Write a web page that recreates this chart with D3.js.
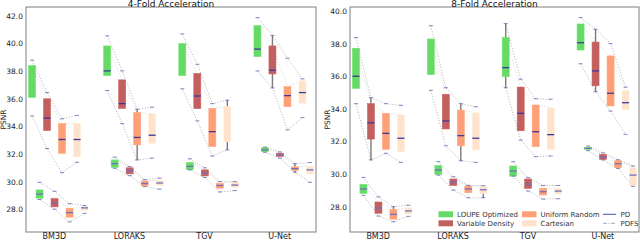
<!DOCTYPE html>
<html>
<head>
<meta charset="utf-8">
<script src="https://cdn.jsdelivr.net/npm/d3@7"></script>
<style>
  html, body { margin: 0; padding: 0; background: #fff; }
  svg { display: block; font-family: "DejaVu Sans", sans-serif; }
</style>
</head>
<body>
<svg id="chart" width="640" height="240"></svg>
<script>
// ---------- data ----------
const groups = ["BM3D", "LORAKS", "TGV", "U-Net"];
const masks = ["LOUPE Optimized", "Variable Density", "Uniform Random", "Cartesian"];
const metrics = ["PD", "PDFS"];
const titles = ["4-Fold Acceleration", "8-Fold Acceleration"];
const yTicks4 = [28, 30, 32, 34, 36, 38, 40, 42];
const yTicks8 = [28, 30, 32, 34, 36, 38, 40];

// each entry per group: [min, q1, median, q3, max]
const fold4_PD_LOUPE = [[34.75, 36.1, null, 38.4, 38.8], [36.6, 37.68, 38.02, 39.83, 40.56], [36.72, 37.68, null, 40.0, 40.7], [38.02, 39.06, 39.6, 41.3, 41.88]];
const fold4_PD_VD    = [[32.4, 33.7, 34.6, 36.0, 36.45], [34.2, 35.3, 35.65, 37.37, 38.02], [34.4, 35.29, 36.2, 37.83, 38.5], [36.79, 37.8, 38.07, 39.83, 40.6]];
const fold4_PD_UR    = [[30.65, 32.05, 33.05, 34.2, 34.55], [31.57, 32.66, 33.2, 35.0, 35.25], [31.86, 32.54, 33.62, 35.3, 35.65], [33.75, 35.43, 36.23, 36.88, 38.94]];
const fold4_PD_CA    = [[31.4, 31.8, 33.05, 34.2, 34.8], [31.7, 32.78, 33.36, 34.93, 35.39], [32.3, 32.9, null, 35.43, 35.9], [34.64, 35.68, 36.45, 37.3, 37.44]];
const fold4_PDFS_LOUPE = [[28.7, 28.8, 29.1, 29.4, 29.95], [30.97, 31.04, 31.3, 31.57, 31.77], [30.85, 30.87, 31.1, 31.38, 31.65], [32.13, 32.17, 32.3, 32.45, 32.5]];
const fold4_PDFS_VD    = [[28.0, 28.17, 28.45, 28.77, 29.3], [30.43, 30.56, 30.8, 31.0, 31.09], [30.3, 30.41, 30.63, 30.85, 31.0], [31.7, 31.82, 31.93, 32.06, 32.15]];
const fold4_PDFS_UR    = [[27.08, 27.42, 27.75, 28.07, 28.4], [29.64, 29.69, 29.86, 30.05, 30.14], [29.25, 29.52, 29.72, 29.88, 30.0], [30.68, 30.8, 30.94, 31.07, 31.3]];
const fold4_PDFS_CA    = [[27.7, 27.93, 28.1, 28.2, 28.27], [29.45, 29.74, 29.9, 30.1, 30.25], [29.35, 29.57, 29.75, 29.98, 30.0], [29.95, 30.56, 30.85, 31.1, 31.38]];

const fold8_PD_LOUPE = [[34.32, 35.26, 36.0, 37.72, 38.37], [35.14, 36.1, null, 38.29, 39.1], [35.3, 35.98, 36.53, 38.39, 39.23], [36.77, 37.61, 38.06, 39.21, 39.6]];
const fold8_PD_VD    = [[30.87, 32.15, 33.15, 34.32, 34.69], [31.74, 32.77, 33.26, 34.9, 35.3], [32.09, 32.66, 33.73, 35.34, 35.82], [35.05, 35.42, 36.33, 38.1, 38.88]];
const fold8_PD_UR    = [[31.28, 31.52, 32.5, 33.73, 34.32], [30.82, 31.74, 32.36, 33.93, 34.32], [31.07, 31.68, 32.6, 34.24, 34.62], [33.87, 34.18, 34.96, 37.25, 38.0]];
const fold8_PD_CA    = [[30.72, 31.37, 32.2, 33.63, 34.22], [30.72, 31.48, 32.2, 33.75, 34.13], [31.11, 31.52, 32.42, 34.07, 34.59], [32.44, 33.95, 34.38, 35.12, 35.33]];
const fold8_PDFS_LOUPE = [[28.7, 28.82, 29.09, 29.37, 29.8], [29.94, 29.99, 30.25, 30.52, 30.76], [29.88, 29.88, 30.19, 30.5, 30.76], [31.44, 31.52, 31.58, 31.64, 31.72]];
const fold8_PDFS_VD    = [[27.43, 27.6, 27.92, 28.29, 28.6], [29.02, 29.3, 29.5, 29.7, 29.84], [28.96, 29.13, 29.39, 29.7, 29.78], [30.87, 30.91, 31.05, 31.21, 31.3]];
const fold8_PDFS_UR    = [[27.08, 27.24, 27.53, 27.84, 28.0], [28.55, 28.86, 29.09, 29.27, 29.31], [28.47, 28.72, 28.92, 29.13, 29.3], [30.35, 30.39, 30.64, 30.82, 30.88]];
const fold8_PDFS_CA    = [[27.41, 27.55, 27.74, 27.92, 28.09], [28.55, 28.82, 29.04, 29.23, 29.29], [28.49, 28.78, 28.96, 29.13, 29.3], [29.25, 29.29, 29.94, 30.42, 30.5]];

// visible whiskers: [panel, metric, group, mask, side]
const whiskers = [
  [0, "PD", 1, 2, "low"], [0, "PD", 1, 2, "high"], [0, "PD", 2, 3, "low"], [0, "PD", 2, 3, "high"],
  [0, "PD", 3, 1, "low"], [0, "PD", 3, 1, "high"], [0, "PDFS", 3, 2, "low"], [0, "PDFS", 3, 2, "high"],
  [1, "PD", 0, 1, "low"], [1, "PD", 0, 1, "high"], [1, "PDFS", 0, 2, "high"], [1, "PD", 1, 2, "low"],
  [1, "PD", 1, 2, "high"], [1, "PDFS", 1, 3, "low"], [1, "PD", 2, 0, "low"], [1, "PD", 2, 0, "high"],
  [1, "PD", 3, 1, "low"], [1, "PD", 3, 1, "high"]
];

const panelData = [
  { PD: [fold4_PD_LOUPE, fold4_PD_VD, fold4_PD_UR, fold4_PD_CA],
    PDFS: [fold4_PDFS_LOUPE, fold4_PDFS_VD, fold4_PDFS_UR, fold4_PDFS_CA], ticks: yTicks4 },
  { PD: [fold8_PD_LOUPE, fold8_PD_VD, fold8_PD_UR, fold8_PD_CA],
    PDFS: [fold8_PDFS_LOUPE, fold8_PDFS_VD, fold8_PDFS_UR, fold8_PDFS_CA], ticks: yTicks8 }
];

// ---------- layout / style ----------
const maskColors = ["#66da66", "#c25f5f", "#fe9f78", "#fee2cb"];
const medianColor = { PD: "#3a3a9c", PDFS: "#7070bc" };
const capColor = "#5c5cb0";
const panels = [
  { left: 26, right: 316, top: 7, bottom: 232, yDomain: [26.35, 42.65] },
  { left: 350, right: 639, top: 7, bottom: 232, yDomain: [26.45, 40.25] }
];

const svg = d3.select("#chart");
const slotScale = d3.scaleBand()
  .domain(d3.range(8))
  .range([-30, 30]);
const boxW = 7;

panels.forEach((p, pi) => {
  const data = panelData[pi];
  const g = svg.append("g");
  const x = d3.scalePoint().domain(groups).range([p.left, p.right]).padding(0.43);
  const y = d3.scaleLinear().domain(p.yDomain).range([p.bottom, p.top]);
  const slotX = (gi, mi, metric) =>
    x(groups[gi]) + slotScale(mi * 2 + (metric === "PD" ? 0 : 1)) + slotScale.bandwidth() / 2;

  // dotted connecting lines between caps across masks
  const line = d3.line().x(d => d[0]).y(d => d[1]);
  metrics.forEach(metric => {
    groups.forEach((gn, gi) => {
      [0, 4].forEach(k => {
        const pts = masks.map((m, mi) => [slotX(gi, mi, metric), y(data[metric][mi][gi][k])]);
        g.append("path").attr("d", line(pts))
          .attr("fill", "none").attr("stroke", "#ababab")
          .attr("stroke-width", 0.8).attr("stroke-dasharray", "1.2,1.6");
      });
      const pts2 = masks.map((m, mi) => [slotX(gi, mi, metric), y(data[metric][mi][gi][3])]);
      g.append("path").attr("d", line(pts2))
        .attr("fill", "none").attr("stroke", "#c4c4c4")
        .attr("stroke-width", 0.7).attr("stroke-dasharray", "1,2");
    });
  });

  // whiskers
  whiskers.filter(w => w[0] === pi).forEach(w => {
    const [, metric, gi, mi, side] = w;
    const s = data[metric][mi][gi];
    const cx = slotX(gi, mi, metric);
    const y1 = side === "low" ? y(s[1]) : y(s[3]);
    const y2 = side === "low" ? y(s[0]) : y(s[4]);
    g.append("line").attr("x1", cx).attr("x2", cx).attr("y1", y1).attr("y2", y2)
      .attr("stroke", "#7a7a7a").attr("stroke-width", 1.4);
  });

  // boxes
  metrics.forEach(metric => {
    masks.forEach((m, mi) => {
      groups.forEach((gn, gi) => {
        const s = data[metric][mi][gi];
        const cx = slotX(gi, mi, metric);
        g.append("rect")
          .attr("x", cx - boxW / 2).attr("width", boxW)
          .attr("y", y(s[3])).attr("height", Math.max(1, y(s[1]) - y(s[3])))
          .attr("fill", maskColors[mi])
          .attr("stroke", d3.color(maskColors[mi]).brighter(0.15))
          .attr("stroke-width", 0.6);
        if (s[2] !== null) {
          g.append("line")
            .attr("x1", cx - boxW / 2).attr("x2", cx + boxW / 2)
            .attr("y1", y(s[2])).attr("y2", y(s[2]))
            .attr("stroke", medianColor[metric]).attr("stroke-width", 1.3);
        }
        [0, 4].forEach(k => {
          g.append("line")
            .attr("x1", cx - 2).attr("x2", cx + 2)
            .attr("y1", y(s[k])).attr("y2", y(s[k]))
            .attr("stroke", capColor).attr("stroke-opacity", 0.75).attr("stroke-width", 1);
        });
      });
    });
  });

  // frame
  g.append("rect").attr("x", p.left).attr("y", p.top)
    .attr("width", p.right - p.left).attr("height", p.bottom - p.top)
    .attr("fill", "none").attr("stroke", "#7f7f7f").attr("stroke-width", 1);

  // y axis
  const yAxis = d3.axisLeft(y).tickValues(data.ticks).tickFormat(d3.format(".1f"))
    .tickSize(0).tickPadding(3);
  const ya = g.append("g").attr("transform", `translate(${p.left},0)`).call(yAxis);
  ya.select(".domain").remove();
  ya.selectAll("text").attr("font-size", 7.5).attr("fill", "#222")
    .attr("font-family", "DejaVu Sans, sans-serif");

  // x axis labels (centered on PD boxes)
  const xl = d3.scalePoint().domain(groups)
    .range([p.left - 4.5, p.right - 4.5]).padding(0.43);
  const xAxis = d3.axisBottom(xl).tickSize(0).tickPadding(1.5);
  const xa = g.append("g").attr("transform", `translate(0,${p.bottom})`).call(xAxis);
  xa.select(".domain").remove();
  xa.selectAll("text").attr("font-size", 8).attr("fill", "#222")
    .attr("font-family", "DejaVu Sans, sans-serif");

  // title
  g.append("text").attr("x", (p.left + p.right) / 2).attr("y", p.top - 0.5)
    .attr("text-anchor", "middle").attr("font-size", 9).attr("fill", "#111")
    .text(titles[pi]);

  // y label
  g.append("text")
    .attr("transform", `translate(${p.left - 20.5},${(p.top + p.bottom) / 2}) rotate(-90)`)
    .attr("text-anchor", "middle").attr("font-size", 7.5).attr("fill", "#222")
    .text("PSNR");
});

// ---------- legend (in 8-fold panel) ----------
const leg = svg.append("g");
leg.append("rect").attr("x", 434).attr("y", 207).attr("width", 202).attr("height", 23)
  .attr("fill", "#fff").attr("fill-opacity", 0.8);
const legendItems = [
  { type: "patch", color: maskColors[0], label: masks[0], col: 0, row: 0 },
  { type: "patch", color: maskColors[1], label: masks[1], col: 0, row: 1 },
  { type: "patch", color: maskColors[2], label: masks[2], col: 1, row: 0 },
  { type: "patch", color: maskColors[3], label: masks[3], col: 1, row: 1 },
  { type: "line", color: "#5a5ab4", dash: null, label: metrics[0], col: 2, row: 0 },
  { type: "line", color: "#a0a0c8", dash: "4,1.5,1,1.5", label: metrics[1], col: 2, row: 1 }
];
const colX = [438.5, 522, 603];
const rowY = [214.3, 223.3];
legendItems.forEach(it => {
  const x0 = colX[it.col], yc = rowY[it.row];
  if (it.type === "patch") {
    leg.append("rect").attr("x", x0).attr("y", yc - 3).attr("width", 14.5).attr("height", 6)
      .attr("fill", it.color);
  } else {
    leg.append("line").attr("x1", x0).attr("x2", x0 + 13).attr("y1", yc).attr("y2", yc)
      .attr("stroke", it.color).attr("stroke-width", 1.1)
      .attr("stroke-dasharray", it.dash);
  }
  leg.append("text").attr("x", x0 + (it.type === "patch" ? 18.5 : 17.5)).attr("y", yc + 2.5)
    .attr("font-size", 7).attr("fill", "#333").text(it.label);
});
</script>
</body>
</html>
